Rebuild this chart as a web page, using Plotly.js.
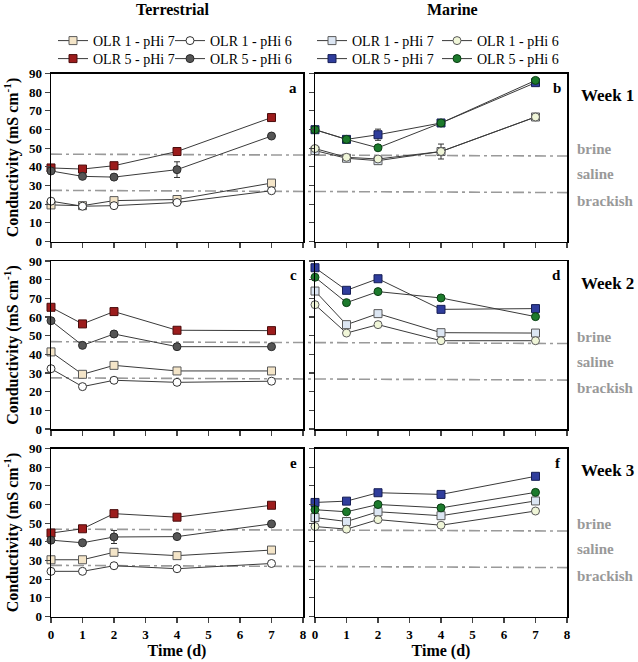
<!DOCTYPE html>
<html>
<head>
<meta charset="utf-8">
<script src="https://cdn.plot.ly/plotly-3.0.1.min.js"></script>
<style>body{margin:0;padding:0;background:#fff}#chart{width:638px;height:662px}</style>
</head>
<body>
<div id="chart"></div>
<script>
// ---- data ----
const days = [0, 1, 2, 4, 7];
const seriesNames = ['OLR 1 - pHi 7', 'OLR 1 - pHi 6', 'OLR 5 - pHi 7', 'OLR 5 - pHi 6'];
const weekLabels = ['Week 1', 'Week 2', 'Week 3'];
const panelLetters = ['a', 'b', 'c', 'd', 'e', 'f'];
const columnTitles = ['Terrestrial', 'Marine'];
const xTicks = [0, 1, 2, 3, 4, 5, 6, 7, 8];
const yTicks = [0, 10, 20, 30, 40, 50, 60, 70, 80, 90];

// Terrestrial
const t1_olr1_ph7 = [19.6, 19.2, 21.9, 22.5, 31.3];
const t1_olr1_ph6 = [21.6, 18.9, 19.2, 20.9, 27.2];
const t1_olr5_ph7 = [39.4, 38.8, 40.6, 48.2, 66.4];
const t1_olr5_ph6 = [37.8, 34.9, 34.5, 38.5, 56.5];
const t2_olr1_ph7 = [41.3, 29.3, 34.1, 31.1, 31.1];
const t2_olr1_ph6 = [32.3, 22.7, 26.1, 25.0, 25.6];
const t2_olr5_ph7 = [65.2, 56.3, 62.9, 52.9, 52.7];
const t2_olr5_ph6 = [58.0, 44.8, 50.9, 44.1, 44.1];
const t3_olr1_ph7 = [30.4, 30.4, 34.4, 32.6, 35.6];
const t3_olr1_ph6 = [24.2, 24.2, 27.2, 25.6, 28.4];
const t3_olr5_ph7 = [44.7, 47.0, 55.1, 53.2, 59.6];
const t3_olr5_ph6 = [40.9, 39.5, 42.6, 42.8, 49.6];
// Marine
const m1_olr1_ph7 = [48.7, 44.6, 43.3, 48.2, 66.7];
const m1_olr1_ph6 = [49.8, 45.1, 44.2, 48.2, 66.7];
const m1_olr5_ph7 = [59.9, 54.7, 57.2, 63.5, 85.1];
const m1_olr5_ph6 = [59.9, 54.7, 50.2, 63.5, 86.3];
const m2_olr1_ph7 = [73.9, 55.9, 61.8, 51.6, 51.4];
const m2_olr1_ph6 = [66.6, 51.4, 55.9, 47.3, 47.3];
const m2_olr5_ph7 = [86.4, 74.3, 80.5, 64.1, 64.5];
const m2_olr5_ph6 = [81.3, 67.7, 73.6, 70.2, 60.2];
const m3_olr1_ph7 = [53.0, 50.9, 56.1, 54.0, 61.9];
const m3_olr1_ph6 = [48.2, 46.8, 51.9, 48.9, 56.5];
const m3_olr5_ph7 = [61.1, 61.8, 66.3, 65.4, 75.1];
const m3_olr5_ph6 = [57.2, 56.1, 60.0, 58.2, 66.5];

// error bars (standard deviation)
const t1_olr5_ph6_err = [0, 0, 0, 4.2, 0];
const m1_olr1_ph6_err = [0, 1, 0, 4.0, 0];
const m1_olr5_ph7_err = [0, 0, 3.0, 0, 0];
const t3_olr5_ph6_err = [0, 0, 3.5, 0, 0];
const t3_olr5_ph7_err = [0, 1.2, 0, 0, 0];

// salinity class thresholds (left end, right end of the dashed line)
const brineLevel = [46.8, 45.8];
const brackishLevel = [27.4, 26.2];
const classLabels = ['brine', 'saline', 'brackish'];
const classLabelY = [49.5, 36.0, 21.8];

// ---- styling ----
const SERIF = 'Liberation Serif, Times New Roman, serif';
const terrStyles = [
  {symbol: 'square', color: '#f4e5c8', line: '#5a5a5a'},
  {symbol: 'circle', color: '#ffffff', line: '#333333'},
  {symbol: 'square', color: '#9c1c1c', line: '#4a0c0c'},
  {symbol: 'circle', color: '#555555', line: '#2a2a2a'}
];
const marStyles = [
  {symbol: 'square', color: '#dce6f3', line: '#5a5a5a'},
  {symbol: 'circle', color: '#f0f6d8', line: '#5a5a5a'},
  {symbol: 'square', color: '#2f3d9c', line: '#161e55'},
  {symbol: 'circle', color: '#1c7a2c', line: '#0b3f14'}
];

const terr = [
  [t1_olr1_ph7, t1_olr1_ph6, t1_olr5_ph7, t1_olr5_ph6],
  [t2_olr1_ph7, t2_olr1_ph6, t2_olr5_ph7, t2_olr5_ph6],
  [t3_olr1_ph7, t3_olr1_ph6, t3_olr5_ph7, t3_olr5_ph6]
];
const mar = [
  [m1_olr1_ph7, m1_olr1_ph6, m1_olr5_ph7, m1_olr5_ph6],
  [m2_olr1_ph7, m2_olr1_ph6, m2_olr5_ph7, m2_olr5_ph6],
  [m3_olr1_ph7, m3_olr1_ph6, m3_olr5_ph7, m3_olr5_ph6]
];
const errs = {
  't0_3': t1_olr5_ph6_err, 'm0_1': m1_olr1_ph6_err, 'm0_2': m1_olr5_ph7_err,
  't2_3': t3_olr5_ph6_err, 't2_2': t3_olr5_ph7_err
};

const W = 638, H = 662;
const leftDom = [51 / W, 303 / W];
const rightDom = [315 / W, 567 / W];
const rowPx = [[73.5, 241.5], [261, 429], [448.5, 616.5]];
const rowDom = rowPx.map(r => [1 - r[1] / H, 1 - r[0] / H]);

// one legend per entry: [column][series]
const legendIds = [['legend', 'legend2', 'legend3', 'legend4'], ['legend5', 'legend6', 'legend7', 'legend8']];
// legend boxes (left px, top px)
const legendPos = [
  [[53, 25], [170, 25], [53, 43], [170, 43]],
  [[312, 25], [437, 25], [312, 43], [437, 43]]
];

const traces = [];
for (let r = 0; r < 3; r++) {
  [terr, mar].forEach((set, c) => {
    const styles = c === 0 ? terrStyles : marStyles;
    const idx = r * 2 + c + 1;
    const xa = idx === 1 ? 'x' : 'x' + idx;
    const ya = idx === 1 ? 'y' : 'y' + idx;
    set[r].forEach((vals, s) => {
      const st = styles[s];
      const key = (c === 0 ? 't' : 'm') + r + '_' + s;
      const tr = {
        type: 'scatter', mode: 'lines+markers', x: days, y: vals,
        xaxis: xa, yaxis: ya, name: seriesNames[s],
        cliponaxis: false,
        line: {color: '#3a3a3a', width: 1},
        marker: {symbol: st.symbol, size: 8, color: st.color, line: {color: st.line, width: 1}},
        showlegend: r === 0,
        legend: legendIds[c][s]
      };
      if (errs[key]) {
        tr.error_y = {type: 'data', array: errs[key], visible: true, color: '#333', thickness: 1, width: 3};
      }
      traces.push(tr);
    });
  });
}

const layout = {
  width: W, height: H,
  margin: {l: 0, r: 0, t: 0, b: 0},
  paper_bgcolor: '#fff', plot_bgcolor: '#fff',
  font: {family: SERIF, color: '#000'},
  shapes: [], annotations: []
};
for (let c = 0; c < 2; c++) {
  for (let s = 0; s < 4; s++) {
    const p = legendPos[c][s];
    layout[legendIds[c][s]] = {
      font: {family: SERIF, size: 14, color: '#000'},
      orientation: 'v', xanchor: 'left', yanchor: 'top',
      bgcolor: 'rgba(0,0,0,0)', itemwidth: 30,
      x: p[0] / W, y: 1 - p[1] / H
    };
  }
}

for (let r = 0; r < 3; r++) {
  for (let c = 0; c < 2; c++) {
    const idx = r * 2 + c + 1;
    const xk = idx === 1 ? 'xaxis' : 'xaxis' + idx;
    const yk = idx === 1 ? 'yaxis' : 'yaxis' + idx;
    const xa = idx === 1 ? 'x' : 'x' + idx;
    const ya = idx === 1 ? 'y' : 'y' + idx;
    layout[xk] = {
      domain: c === 0 ? leftDom : rightDom, anchor: ya,
      range: [0, 8], tickvals: xTicks, ticks: 'outside', ticklen: 5, tickwidth: 1.3,
      showline: true, mirror: true, linecolor: '#000', linewidth: 1.5,
      showgrid: false, zeroline: false, showticklabels: r === 2,
      tickfont: {family: SERIF, size: 13, color: '#000', weight: 'bold'}, fixedrange: true
    };
    if (r === 2) {
      layout[xk].title = {text: 'Time (d)', font: {family: SERIF, size: 16, color: '#000', weight: 'bold'}, standoff: 4};
    }
    layout[yk] = {
      domain: rowDom[r], anchor: xa,
      range: [0, 90], tickvals: yTicks, ticks: 'outside', ticklen: 5, tickwidth: 1.3,
      showline: true, mirror: true, linecolor: '#000', linewidth: 1.5,
      showgrid: false, zeroline: false, showticklabels: c === 0,
      tickfont: {family: SERIF, size: 13, color: '#000', weight: 'bold'}, fixedrange: true
    };
    if (c === 0) {
      layout[yk].title = {text: 'Conductivity (mS cm<sup>-1</sup>)', font: {family: SERIF, size: 16, color: '#000', weight: 'bold'}, standoff: 6};
    }
    // panel letter
    layout.annotations.push({
      text: panelLetters[idx - 1], xref: xa + ' domain', yref: ya + ' domain',
      x: 0.985, y: 0.975, xanchor: 'right', yanchor: 'top', showarrow: false,
      font: {family: SERIF, size: 15, color: '#000', weight: 'bold'}
    });
  }
  const ya = r === 0 ? 'y' : 'y' + (r * 2 + 1);
  const yaR = 'y' + (r * 2 + 2);
  // dashed class lines spanning both panels
  [brineLevel, brackishLevel].forEach(lv => {
    layout.shapes.push({
      type: 'line', xref: 'paper', yref: ya,
      x0: 51 / W, x1: 568 / W, y0: lv[0], y1: lv[1],
      line: {color: '#9a9a9a', width: 1.6, dash: '11px,4px,3px,4px'}, layer: 'below'
    });
  });
  // week label
  layout.annotations.push({
    text: weekLabels[r], xref: 'paper', yref: yaR, x: 579 / W, y: 78, xanchor: 'left', yanchor: 'middle',
    showarrow: false, font: {family: SERIF, size: 17, color: '#000', weight: 'bold'}
  });
  classLabels.forEach((lab, k) => {
    layout.annotations.push({
      text: lab, xref: 'paper', yref: yaR, x: 575 / W, y: classLabelY[k], xanchor: 'left', yanchor: 'middle',
      showarrow: false, font: {family: SERIF, size: 15, color: '#999999', weight: 'bold'}
    });
  });
}
// column titles
columnTitles.forEach((t, c) => {
  layout.annotations.push({
    text: t, xref: 'paper', yref: 'paper', x: (c === 0 ? 172 : 452) / W, y: 1 - 10 / H,
    xanchor: 'center', yanchor: 'middle', showarrow: false,
    font: {family: SERIF, size: 16, color: '#000', weight: 'bold'}
  });
});

Plotly.newPlot('chart', traces, layout, {displayModeBar: false, staticPlot: true});
</script>
</body>
</html>
